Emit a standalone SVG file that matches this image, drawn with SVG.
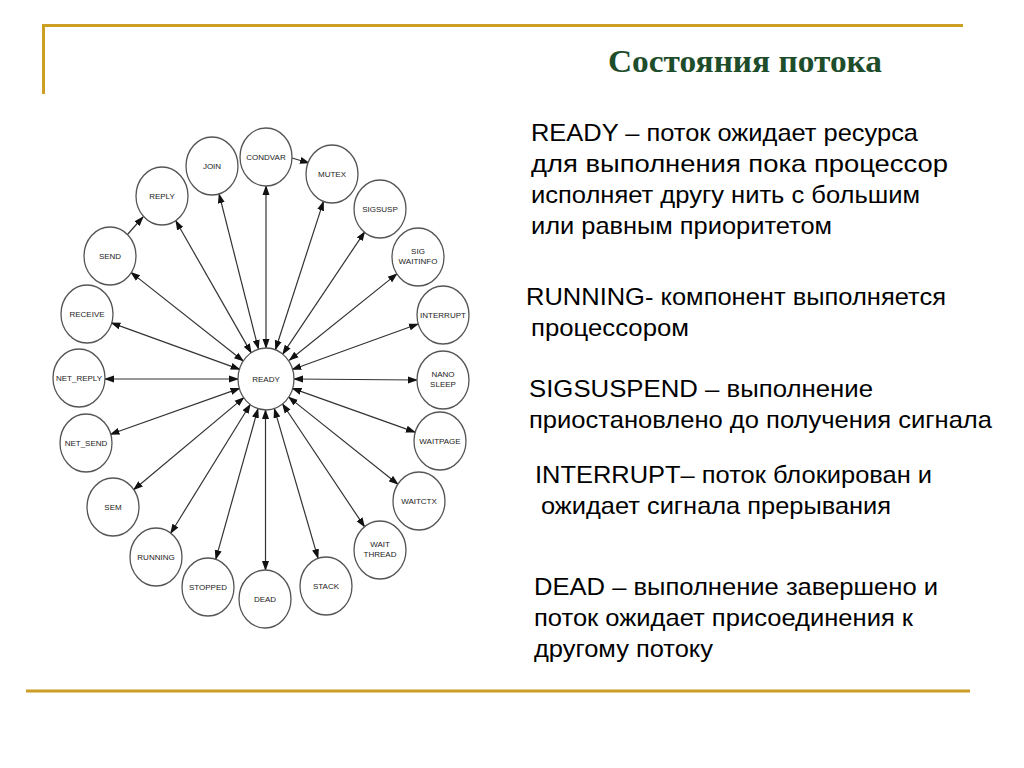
<svg xmlns="http://www.w3.org/2000/svg" width="1024" height="768" viewBox="0 0 1024 768">
<style>
.rule{stroke:#CC9E24;stroke-width:3;fill:none}
.node ellipse{fill:#fff;stroke:#555;stroke-width:1.3}
.node text{font-family:"Liberation Sans",Arial,sans-serif;font-size:8px;fill:#222;text-anchor:middle}
#connectors line{stroke:#333;stroke-width:1.2;marker-end:url(#ah)}
#connectors line.bi{marker-start:url(#ah)}
.body{font-family:"Liberation Sans",Arial,sans-serif;font-size:24px;fill:#000}
.title{font-family:"Liberation Serif","Times New Roman",serif;font-size:32px;font-weight:bold;fill:#1E4D2B}
</style>
<defs>
<marker id="ah" markerUnits="userSpaceOnUse" markerWidth="10" markerHeight="8" refX="9" refY="3.5" orient="auto-start-reverse" viewBox="0 0 10 7">
<path d="M0,0 L10,3.5 L0,7 z" fill="#111"/>
</marker>
</defs>
<rect width="1024" height="768" fill="#fff"/>
<line class="rule" x1="42" y1="25.5" x2="963" y2="25.5"/>
<line class="rule" x1="43.5" y1="25" x2="43.5" y2="94" stroke-width="2"/>
<line class="rule" x1="26" y1="691" x2="970" y2="691"/>
<text class="title" x="608" y="72" textLength="274" lengthAdjust="spacingAndGlyphs">Состояния потока</text>

<g id="connectors">
<line class="bi" x1="258.4" y1="348.9" x2="219.1" y2="194.1"/>
<line class="bi" x1="266" y1="348" x2="266" y2="186"/>
<line class="bi" x1="275.5" y1="349.5" x2="323.4" y2="201.6"/>
<line class="bi" x1="282.7" y1="354.1" x2="364.7" y2="231.8"/>
<line class="bi" x1="289.4" y1="360.2" x2="396.9" y2="273.9"/>
<line class="bi" x1="292.3" y1="369.5" x2="418" y2="324"/>
<line class="bi" x1="294" y1="379" x2="417" y2="380"/>
<line class="bi" x1="292.4" y1="388.4" x2="415" y2="432.1"/>
<line class="bi" x1="288.7" y1="397.1" x2="397.9" y2="484.2"/>
<line class="bi" x1="282.6" y1="404" x2="364.5" y2="526.7"/>
<line class="bi" x1="274.4" y1="408.8" x2="318" y2="558.1"/>
<line class="bi" x1="265.5" y1="410" x2="265.5" y2="570"/>
<line class="bi" x1="257.9" y1="408.9" x2="215.8" y2="559.1"/>
<line class="bi" x1="250.2" y1="404.5" x2="170.7" y2="533.2"/>
<line class="bi" x1="243.8" y1="397.6" x2="133.7" y2="489.7"/>
<line class="bi" x1="239.6" y1="388.4" x2="110.5" y2="434.3"/>
<line class="bi" x1="238" y1="379" x2="105" y2="379"/>
<line class="bi" x1="239.7" y1="369.4" x2="111.4" y2="322.9"/>
<line class="bi" x1="243.2" y1="361" x2="131" y2="272.4"/>
<line class="bi" x1="251.2" y1="352.9" x2="175.8" y2="220.8"/>
<line x1="292" y1="158" x2="309" y2="163"/>
<line x1="127" y1="235" x2="143" y2="217"/>
</g>

<g id="n-ready" class="node"><ellipse cx="266" cy="379" rx="28" ry="31"/><text x="266" y="382">READY</text></g>
<g id="n-join" class="node"><ellipse cx="212" cy="166" rx="26" ry="29"/><text x="212" y="169">JOIN</text></g>
<g id="n-condvar" class="node"><ellipse cx="266" cy="157" rx="26" ry="29"/><text x="266" y="160">CONDVAR</text></g>
<g id="n-mutex" class="node"><ellipse cx="332" cy="174" rx="26" ry="29"/><text x="332" y="177">MUTEX</text></g>
<g id="n-sigsusp" class="node"><ellipse cx="380" cy="209" rx="26" ry="29"/><text x="380" y="212">SIGSUSP</text></g>
<g id="n-sigwaitinfo" class="node"><ellipse cx="418" cy="257" rx="26" ry="29"/><text x="418" y="254">SIG</text><text x="418" y="264">WAITINFO</text></g>
<g id="n-interrupt" class="node"><ellipse cx="443" cy="315" rx="26" ry="29"/><text x="443" y="318">INTERRUPT</text></g>
<g id="n-nanosleep" class="node"><ellipse cx="443" cy="380" rx="26" ry="29"/><text x="443" y="377">NANO</text><text x="443" y="387">SLEEP</text></g>
<g id="n-waitpage" class="node"><ellipse cx="440" cy="441" rx="26" ry="29"/><text x="440" y="444">WAITPAGE</text></g>
<g id="n-waitctx" class="node"><ellipse cx="419" cy="501" rx="26" ry="29"/><text x="419" y="504">WAITCTX</text></g>
<g id="n-waitthread" class="node"><ellipse cx="380" cy="550" rx="26" ry="29"/><text x="380" y="547">WAIT</text><text x="380" y="557">THREAD</text></g>
<g id="n-stack" class="node"><ellipse cx="326" cy="586" rx="26" ry="29"/><text x="326" y="589">STACK</text></g>
<g id="n-dead" class="node"><ellipse cx="265" cy="599" rx="26" ry="29"/><text x="265" y="602">DEAD</text></g>
<g id="n-stopped" class="node"><ellipse cx="208" cy="587" rx="26" ry="29"/><text x="208" y="590">STOPPED</text></g>
<g id="n-running" class="node"><ellipse cx="156" cy="557" rx="26" ry="29"/><text x="156" y="560">RUNNING</text></g>
<g id="n-sem" class="node"><ellipse cx="113" cy="507" rx="26" ry="29"/><text x="113" y="510">SEM</text></g>
<g id="n-netsend" class="node"><ellipse cx="86" cy="443" rx="26" ry="29"/><text x="86" y="446">NET_SEND</text></g>
<g id="n-netreply" class="node"><ellipse cx="79" cy="378" rx="26" ry="29"/><text x="79" y="381">NET_REPLY</text></g>
<g id="n-receive" class="node"><ellipse cx="87" cy="314" rx="26" ry="29"/><text x="87" y="317">RECEIVE</text></g>
<g id="n-send" class="node"><ellipse cx="110" cy="256" rx="26" ry="29"/><text x="110" y="259">SEND</text></g>
<g id="n-reply" class="node"><ellipse cx="162" cy="196" rx="26" ry="29"/><text x="162" y="199">REPLY</text></g>

<g id="descriptions">
<text class="body" x="531" y="141" textLength="387" lengthAdjust="spacingAndGlyphs">READY – поток ожидает ресурса</text>
<text class="body" x="531" y="172" textLength="417" lengthAdjust="spacingAndGlyphs">для выполнения пока процессор</text>
<text class="body" x="531" y="203" textLength="389" lengthAdjust="spacingAndGlyphs">исполняет другу нить с большим</text>
<text class="body" x="531" y="234" textLength="301" lengthAdjust="spacingAndGlyphs">или равным приоритетом</text>
<text class="body" x="526" y="305" textLength="420" lengthAdjust="spacingAndGlyphs">RUNNING- компонент выполняется</text>
<text class="body" x="531" y="336" textLength="158" lengthAdjust="spacingAndGlyphs">процессором</text>
<text class="body" x="529" y="397" textLength="344" lengthAdjust="spacingAndGlyphs">SIGSUSPEND – выполнение</text>
<text class="body" x="529" y="428" textLength="463" lengthAdjust="spacingAndGlyphs">приостановлено до получения сигнала</text>
<text class="body" x="535" y="483" textLength="397" lengthAdjust="spacingAndGlyphs">INTERRUPT– поток блокирован и</text>
<text class="body" x="541" y="514" textLength="350" lengthAdjust="spacingAndGlyphs">ожидает сигнала прерывания</text>
<text class="body" x="534" y="595" textLength="404" lengthAdjust="spacingAndGlyphs">DEAD – выполнение завершено и</text>
<text class="body" x="534" y="626" textLength="379" lengthAdjust="spacingAndGlyphs">поток ожидает присоединения к</text>
<text class="body" x="534" y="657" textLength="179" lengthAdjust="spacingAndGlyphs">другому потоку</text>
</g>
</svg>
